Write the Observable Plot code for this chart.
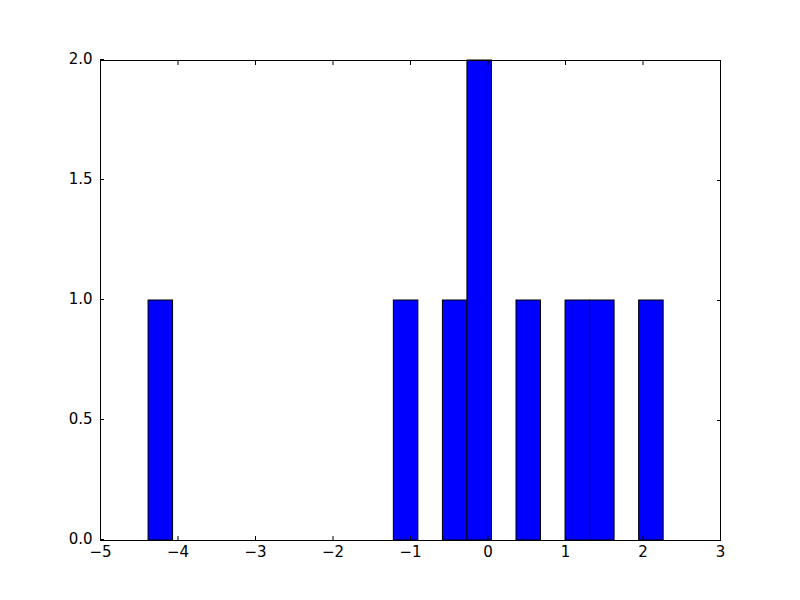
<!DOCTYPE html>
<html>
<head>
<meta charset="utf-8">
<script src="https://cdn.jsdelivr.net/npm/d3@7"></script>
<script src="https://cdn.jsdelivr.net/npm/@observablehq/plot@0.6"></script>
<style>
  html, body { margin: 0; padding: 0; background: #ffffff; }
  #chart { width: 800px; height: 600px; }
</style>
</head>
<body>
<div id="chart"></div>
<script>
// Histogram bins (only non-empty bins)
const binLeft  = [-4.380, -1.215, -0.582, -0.2655, 0.3675, 1.0005, 1.317, 1.950];
const binRight = [-4.0635, -0.8985, -0.2655, 0.051, 0.684, 1.317, 1.6335, 2.2665];
const counts   = [1, 1, 1, 2, 1, 1, 1, 1];

const xTicks = [-5, -4, -3, -2, -1, 0, 1, 2, 3];
const yTicks = [0.0, 0.5, 1.0, 1.5, 2.0];

const bins = binLeft.map((l, i) => ({x1: l, x2: binRight[i], count: counts[i]}));

const chart = Plot.plot({
  width: 800,
  height: 600,
  marginLeft: 100,
  marginRight: 80,
  marginTop: 60,
  marginBottom: 60,
  style: {fontFamily: "DejaVu Sans, sans-serif", fontSize: "15px", background: "#ffffff", color: "black"},
  x: {domain: [-5, 3]},
  y: {domain: [0, 2]},
  marks: [
    Plot.rectY(bins, {x1: "x1", x2: "x2", y1: 0, y2: "count", fill: "#0000ff", stroke: "black", strokeWidth: 1, inset: 0}),
    Plot.frame({stroke: "black", strokeWidth: 1}),
    Plot.axisX({anchor: "bottom", ticks: xTicks, tickSize: -4, tickPadding: 10, label: null, fontSize: 15}),
    Plot.axisX({anchor: "top", ticks: xTicks, tickSize: -4, tickFormat: () => "", label: null}),
    Plot.axisY({anchor: "left", ticks: yTicks, tickSize: -4, tickPadding: 12, dy: -1, tickFormat: d3.format(".1f"), label: null, fontSize: 15}),
    Plot.axisY({anchor: "right", ticks: yTicks, tickSize: -4, tickFormat: () => "", label: null})
  ]
});
document.getElementById("chart").appendChild(chart);
</script>
</body>
</html>
